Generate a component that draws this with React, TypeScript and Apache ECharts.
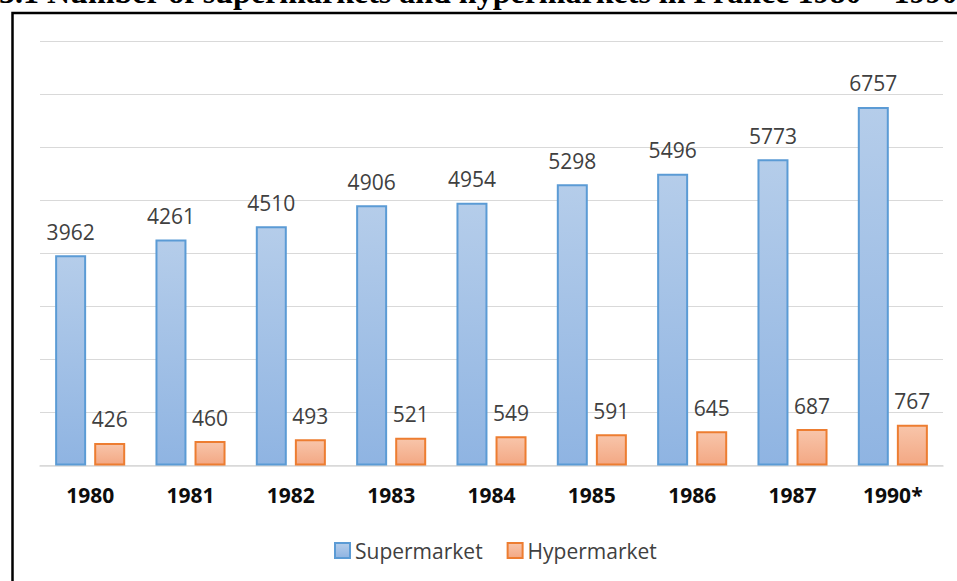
import React, { useEffect, useRef } from "react";
import * as echarts from "echarts";

const categories = ["1980", "1981", "1982", "1983", "1984", "1985", "1986", "1987", "1990*"];
const supermarkets = [3962, 4261, 4510, 4906, 4954, 5298, 5496, 5773, 6757];
const hypermarkets = [426, 460, 493, 521, 549, 591, 645, 687, 767];
const seriesNames = ["Supermarket", "Hypermarket"];
const titleText = "3.1 Number of supermarkets and hypermarkets in France 1980 – 1990";

const FONT = "'Open Sans', 'Noto Sans', sans-serif";

export default function App() {
  const ref = useRef<HTMLDivElement>(null);
  useEffect(() => {
    if (!ref.current) return;
    const chart = echarts.init(ref.current, undefined, { renderer: "svg" });
    const blueFill = new echarts.graphic.LinearGradient(0, 0, 0, 1, [
      { offset: 0, color: "#b5cdea" },
      { offset: 1, color: "#8fb4e2" },
    ]);
    const orangeFill = new echarts.graphic.LinearGradient(0, 0, 0, 1, [
      { offset: 0, color: "#f8c5aa" },
      { offset: 1, color: "#f3a884" },
    ]);
    const labelStyle = {
      show: true,
      position: "top" as const,
      distance: 13,
      fontFamily: FONT,
      fontSize: 21,
      color: "#404040",
    };
    chart.setOption({
      animation: false,
      backgroundColor: "#ffffff",
      graphic: [
        {
          type: "rect",
          shape: { x: 12.5, y: 13, width: 1000, height: 700 },
          style: { fill: "none", stroke: "#000", lineWidth: 2.5 },
          z: 1,
        },
        {
          type: "text",
          x: -1,
          y: 8,
          style: {
            text: titleText,
            font: "bold 32px 'Liberation Serif', 'Times New Roman', serif",
            fill: "#000",
            textVerticalAlign: "bottom",
          },
          z: 2,
        },
      ],
      grid: { left: 40, right: 14, top: 41, bottom: 115.5, containLabel: false },
      legend: {
        data: seriesNames,
        icon: "rect",
        top: 535,
        left: 329,
        itemWidth: 15,
        itemHeight: 15,
        itemGap: 24,
        textStyle: { fontFamily: FONT, fontSize: 21, color: "#404040" },
      },
      xAxis: {
        type: "category",
        data: categories,
        axisLine: { show: true, lineStyle: { color: "#d9d9d9", width: 1.5 } },
        axisTick: { show: false },
        axisLabel: {
          margin: 19,
          fontFamily: FONT,
          fontSize: 21,
          fontWeight: "bold",
          color: "#0d0d0d",
        },
      },
      yAxis: {
        type: "value",
        min: 0,
        max: 8000,
        interval: 1000,
        axisLabel: { show: false },
        axisLine: { show: false },
        axisTick: { show: false },
        splitLine: { lineStyle: { color: "#d9d9d9", width: 1 } },
      },
      series: [
        {
          name: seriesNames[0],
          type: "bar",
          data: supermarkets,
          barWidth: 31,
          barGap: "26%",
          itemStyle: { color: blueFill, borderColor: "#5b9bd5", borderWidth: 2 },
          label: labelStyle,
        },
        {
          name: seriesNames[1],
          type: "bar",
          data: hypermarkets,
          barWidth: 31,
          barGap: "26%",
          itemStyle: { color: orangeFill, borderColor: "#ed7d31", borderWidth: 2 },
          label: labelStyle,
        },
      ],
    });
    return () => chart.dispose();
  }, []);
  return (
    <div
      ref={ref}
      style={{ position: "fixed", left: 0, top: 0, width: 957, height: 581, background: "#fff" }}
    />
  );
}
